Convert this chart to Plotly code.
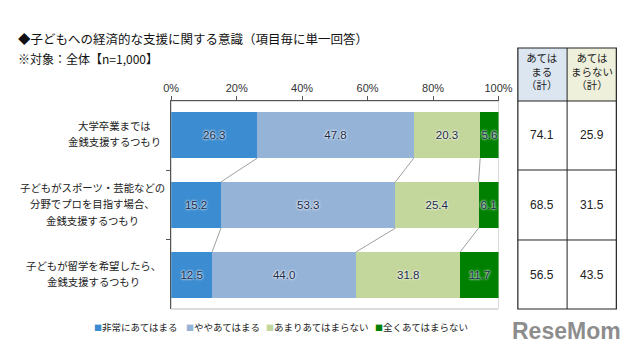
import plotly.graph_objects as go

# ---------------- data ----------------
categories = [
    "大学卒業までは<br>金銭支援するつもり",
    "子どもがスポーツ・芸能などの<br>分野でプロを目指す場合、<br>金銭支援するつもり",
    "子どもが留学を希望したら、<br>金銭支援するつもり",
]
series_names = ["非常にあてはまる", "ややあてはまる", "あまりあてはまらない", "全くあてはまらない"]
very_agree = [26.3, 15.2, 12.5]
some_agree = [47.8, 53.3, 44.0]
not_much = [20.3, 25.4, 31.8]
not_at_all = [5.6, 6.1, 11.7]
agree_total = [74.1, 68.5, 56.5]
disagree_total = [25.9, 31.5, 43.5]
x_ticks = [0, 20, 40, 60, 80, 100]
x_tick_labels = ["0%", "20%", "40%", "60%", "80%", "100%"]
table_headers = ["あては<br>まる<br>（計）", "あては<br>まらない<br>（計）"]
title_text = "◆子どもへの経済的な支援に関する意識（項目毎に単一回答）"
subtitle_text = "※対象：全体【n=1,000】"

# ---------------- style ----------------
colors = ["#3b8cd0", "#95b3d7", "#c3d69b", "#008000"]
W, H = 640, 353
FONT = "Noto Sans CJK JP, sans-serif"
BAR_W = 0.66
LABEL_LINE_H = 16.5


def px(x):
    return x / W


def py(y):
    return 1 - y / H


series = [very_agree, some_agree, not_much, not_at_all]
ypos = list(range(len(categories)))

fig = go.Figure()

# connector lines between bars (cumulative boundaries)
cums = []
for i in range(len(categories)):
    c, acc = [], 0
    for s in series[:-1]:
        acc += s[i]
        c.append(acc)
    cums.append(c)
for i in range(len(categories) - 1):
    for k in range(len(series) - 1):
        fig.add_trace(go.Scatter(
            x=[cums[i][k], cums[i + 1][k]],
            y=[i + BAR_W / 2, i + 1 - BAR_W / 2],
            mode="lines", line=dict(color="#a0a0a0", width=1),
            showlegend=False, hoverinfo="skip"))

for name, vals, col in zip(series_names, series, colors):
    fig.add_trace(go.Bar(
        y=ypos, x=vals, name=name, orientation="h", width=BAR_W,
        marker=dict(color=col, line=dict(width=0)),
        text=[f"{v:.1f}" for v in vals], textposition="inside", textangle=0,
        insidetextanchor="middle", constraintext="none",
        textfont=dict(family="Liberation Sans, Arial, sans-serif", size=11.5, color="#1a2a4a",
                      shadow="0px 0px 2px #ffffff, 0px 0px 3px #ffffff"),
        showlegend=False, hoverinfo="skip"))

shapes = []
annotations = []

# plot frame (light)
shapes.append(dict(type="rect", xref="x", yref="paper", x0=0, x1=100,
                   y0=py(309), y1=py(101), line=dict(color="#b8b8b8", width=1),
                   layer="below"))

# category labels (each line placed separately, block centred on the bar)
label_cx = [110, 88, 89]
for i, cat in enumerate(categories):
    lines = cat.split("<br>")
    n = len(lines)
    for k, ln in enumerate(lines):
        shift = ((n - 1) / 2 - k) * LABEL_LINE_H + 1.5
        annotations.append(dict(x=px(label_cx[i]), y=i,
                                xref="paper", yref="y", text=ln, yshift=shift,
                                showarrow=False, xanchor="center", yanchor="middle",
                                font=dict(family=FONT, size=10.4, color="#222")))

# table
tx0, tx1, tx2 = px(528), px(579), px(630)
yt_head = py(48)
yt_top = py(101)
yt_bot = py(309)
shapes.append(dict(type="rect", xref="paper", yref="paper", x0=tx0, x1=tx1, y0=yt_top, y1=yt_head,
                   fillcolor="#dce6f1", line=dict(width=0), layer="below"))
shapes.append(dict(type="rect", xref="paper", yref="paper", x0=tx1, x1=tx2, y0=yt_top, y1=yt_head,
                   fillcolor="#eef0dc", line=dict(width=0), layer="below"))
shapes.append(dict(type="rect", xref="paper", yref="paper", x0=tx0, x1=tx2, y0=yt_bot, y1=yt_head,
                   line=dict(color="#222", width=1.2)))
shapes.append(dict(type="line", xref="paper", yref="paper", x0=tx1, x1=tx1, y0=yt_bot, y1=yt_head,
                   line=dict(color="#222", width=1)))
shapes.append(dict(type="line", xref="paper", yref="paper", x0=tx0, x1=tx2, y0=yt_top, y1=yt_top,
                   line=dict(color="#222", width=1)))
for b in [0.5, 1.5]:
    shapes.append(dict(type="line", xref="paper", yref="y", x0=tx0, x1=tx2, y0=b, y1=b,
                       line=dict(color="#222", width=1)))
for j, hd in enumerate(table_headers):
    annotations.append(dict(x=(tx0 + tx1) / 2 if j == 0 else (tx1 + tx2) / 2, y=py(71),
                            xref="paper", yref="paper", text=hd, showarrow=False,
                            xanchor="center", yanchor="middle", align="center",
                            font=dict(family=FONT, size=10.5, color="#222")))
for i in range(len(categories)):
    for j, vals in enumerate([agree_total, disagree_total]):
        annotations.append(dict(x=(tx0 + tx1) / 2 if j == 0 else (tx1 + tx2) / 2, y=i,
                                xref="paper", yref="y", text=f"{vals[i]:.1f}", showarrow=False,
                                xanchor="center", yanchor="middle",
                                font=dict(family="Liberation Sans Narrow, Liberation Sans, Arial", size=12,
                                          color="#222")))

# titles
annotations.append(dict(x=px(8), y=py(38), xref="paper", yref="paper", text=title_text,
                        showarrow=False, xanchor="left", yanchor="middle",
                        font=dict(family=FONT, size=12.5, color="#111")))
annotations.append(dict(x=px(8), y=py(58), xref="paper", yref="paper", text=subtitle_text,
                        showarrow=False, xanchor="left", yanchor="middle",
                        font=dict(family=FONT, size=12, color="#111")))

# legend (manual)
leg_x = [87, 182, 265, 378]
for name, col, lx in zip(series_names, colors, leg_x):
    annotations.append(dict(x=px(lx), y=py(327), xref="paper", yref="paper",
                            text=f"<span style='color:{col};font-size:8px'>■</span>{name}",
                            showarrow=False, xanchor="left", yanchor="middle",
                            font=dict(family=FONT, size=9.5, color="#222")))

# watermark
annotations.append(dict(x=px(520), y=py(331), xref="paper", yref="paper",
                        text="<b>ReseMom</b>", showarrow=False, xanchor="left", yanchor="middle",
                        font=dict(family="Liberation Sans, Arial", size=23,
                                  color="rgba(110,110,110,0.8)")))

fig.update_layout(
    width=W, height=H, margin=dict(l=0, r=0, t=0, b=0),
    paper_bgcolor="white", plot_bgcolor="white",
    barmode="stack", showlegend=False,
    font=dict(family=FONT),
    xaxis=dict(domain=[px(169), px(508)], side="top", range=[0, 100],
               tickmode="array", tickvals=x_ticks, ticktext=x_tick_labels,
               ticks="outside", ticklen=4,
               tickcolor="#555", showline=True, linecolor="#555", linewidth=1,
               showgrid=False, zeroline=False, fixedrange=True,
               tickfont=dict(family="Liberation Sans, Arial", size=11, color="#333")),
    yaxis=dict(domain=[py(309), py(101)], range=[2.486, -0.486],
               tickvals=[0.5, 1.5], ticks="outside", ticklen=4, tickcolor="#555",
               showticklabels=False, showline=True, linecolor="#555", linewidth=1,
               showgrid=False, zeroline=False, fixedrange=True),
    shapes=shapes, annotations=annotations,
)

fig.write_html("out.html")
